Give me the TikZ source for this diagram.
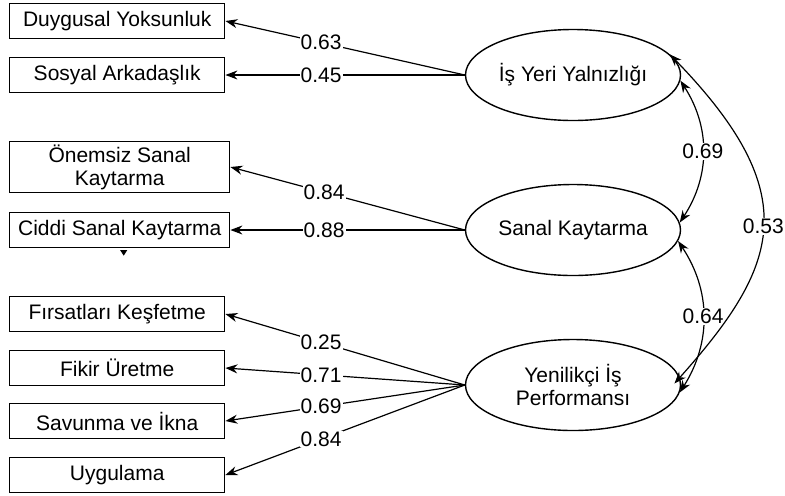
\documentclass[tikz,border=0pt]{standalone}
\usepackage{fontspec}
\setmainfont{Liberation Sans}
\usetikzlibrary{shapes.geometric, arrows.meta}
\newcommand{\widthbox}{107.5pt}
\newcommand{\widthwide}{110pt}
\newcommand{\heightbox}{17.5pt}
\newcommand{\widthfactor}{107.5pt}
\newcommand{\heightfactor}{45.5pt}
\tikzset{
    common/.style={draw, line width=0.7pt, font=\fontsize{10.5}{11.5}\selectfont, align=center},
    item/.style={common, anchor=west, rectangle, minimum width=\widthbox, minimum height=\heightbox, inner sep=1pt},
    factor/.style={common, ellipse, inner sep=0pt, minimum width=\widthfactor, minimum height=\heightfactor},
    load/.style={-{Stealth[length=6pt, width=4.5pt]}, line width=0.6pt},
    cov/.style={{Stealth[length=6pt, width=4.5pt]}-{Stealth[length=6pt, width=4.5pt]}, line width=0.6pt},
    coef/.style={fill=white, inner sep=0.5pt, font=\fontsize{10.5}{11.5}\selectfont}
}
\begin{document}
\begin{tikzpicture}[x=0.5pt, y=0.5pt]
        \useasboundingbox (0,0) rectangle (785,495);
        \path (9,474)
            node[item] (DY) {Duygusal Yoksunluk}
            ++(270:54) node[item] (SA) {Sosyal Arkadaşlık}
            ++(270:92) node[item, minimum width=\widthwide, minimum height=25.5pt] (OSK) {Önemsiz Sanal\\Kaytarma}
            ++(270:63) node[item, minimum width=\widthwide] (CSK) {Ciddi Sanal Kaytarma}
            ++(270:84) node[item] (FK) {Fırsatları Keşfetme}
            ++(270:54) node[item] (FU) {Fikir Üretme}
            ++(270:53) node[item] (SI) {Savunma ve İkna}
            ++(270:54) node[item] (UY) {Uygulama};
        \path (573,420)
            node[factor] (IYY) {İş Yeri Yalnızlığı}
            ++(270:155) node[factor] (SK) {Sanal Kaytarma}
            ++(270:155) node[factor] (YIP) {Yenilikçi İş\\Performansı};

        \draw[load] (IYY.west) -- node[coef, pos=0.6] {0.63} (DY.east);
        \draw[load] (IYY.west) -- node[coef, pos=0.6] {0.45} (SA.east);
        \draw[load] (SK.west) -- node[coef, pos=0.6] {0.84} (OSK.east);
        \draw[load] (SK.west) -- node[coef, pos=0.6] {0.88} (CSK.east);
        \draw[load] (YIP.west) -- node[coef, pos=0.6] {0.25} (FK.east);
        \draw[load] (YIP.west) -- node[coef, pos=0.6] {0.71} (FU.east);
        \draw[load] (YIP.west) -- node[coef, pos=0.6] {0.69} (SI.east);
        \draw[load] (YIP.west) -- node[coef, pos=0.6] {0.84} (UY.east);

        \draw[cov] (IYY.-3) to[bend left=33] node[coef] {0.69} (SK.4);
        \draw[cov] (SK.-6) to[bend left=33] node[coef] {0.64} (YIP.-4);
        \draw[cov, shorten >=-4pt] (IYY.12) .. controls +(136,-140) and +(100,112) .. node[coef] {0.53} (YIP.4);

        \fill ([xshift=2pt, yshift=-1pt]CSK.south) ++(-1.75pt,0) -- ++(3.5pt,0) -- ++(-1.75pt,-2.75pt) -- cycle;
    \end{tikzpicture}
\end{document}
